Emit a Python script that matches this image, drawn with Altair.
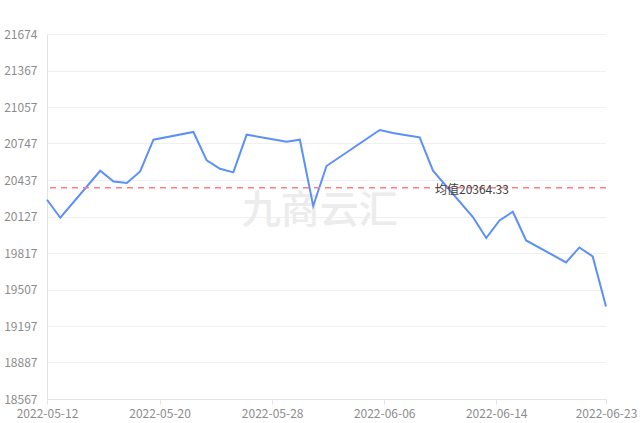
import altair as alt
import pandas as pd

dates = [
    "2022-05-12", "2022-05-13", "2022-05-16", "2022-05-17", "2022-05-18",
    "2022-05-19", "2022-05-20", "2022-05-23", "2022-05-24", "2022-05-25",
    "2022-05-26", "2022-05-27", "2022-05-30", "2022-05-31", "2022-06-01",
    "2022-06-02", "2022-06-06", "2022-06-07", "2022-06-08", "2022-06-09",
    "2022-06-10", "2022-06-13", "2022-06-14", "2022-06-15", "2022-06-16",
    "2022-06-17", "2022-06-20", "2022-06-21", "2022-06-22", "2022-06-23",
]
prices = [
    20263, 20110, 20510, 20419, 20406,
    20504, 20774, 20840, 20598, 20527,
    20496, 20817, 20757, 20774, 20210,
    20550, 20857, 20831, 20812, 20794,
    20510, 20116, 19937, 20087, 20161,
    19917, 19730, 19857, 19781, 19355,
]
mean_value = 20364.33
mean_label = "均值20364.33"
mean_label_date = "2022-06-10"
y_min, y_max = 18567, 21674
y_tick_labels = ["18567", "18887", "19197", "19507", "19817", "20127",
                 "20437", "20747", "21057", "21367", "21674"]
# tick instants as placed on the reference axis (labelled by their date)
x_tick_times = [(2022, 5, 12, 0), (2022, 5, 20, 11), (2022, 5, 28, 22),
                (2022, 6, 6, 8), (2022, 6, 14, 18), (2022, 6, 23, 0)]
watermark_text = "九商云汇"
watermark_date = "2022-06-01T12:00:00"
watermark_value = 20170

FONT = "Noto Sans CJK SC"

df = pd.DataFrame({"date": dates, "price": prices})
step = (y_max - y_min) / 10
y_tick_values = [round(y_min + i * step, 3) for i in range(11)]
label_array = "[" + ",".join("'" + s + "'" for s in y_tick_labels) + "]"
y_label_expr = f"{label_array}[round((datum.value - {y_min}) / {step})]"

x_scale = alt.Scale(type="utc", domain=[alt.DateTime(year=2022, month=5, date=12, utc=True),
                                        alt.DateTime(year=2022, month=6, date=23, utc=True)],
                    nice=False)
y_scale = alt.Scale(domain=[y_min, y_max], nice=False, zero=False)

x_axis = alt.Axis(
    title=None,
    values=[alt.DateTime(year=y, month=m, date=d, hours=h, utc=True) for (y, m, d, h) in x_tick_times],
    labelExpr="utcFormat(datum.value, '%Y-%m-%d')",
    grid=False, domainColor="#e3e3e3", tickColor="#e3e3e3", tickSize=5,
    labelColor="#8c8c8c", labelFontSize=12, labelFont=FONT, labelPadding=4,
    labelFlush=False, labelOverlap=False,
)
y_axis = alt.Axis(
    title=None, values=y_tick_values, labelExpr=y_label_expr,
    ticks=False, grid=True, gridColor="#f0f0f0", domainColor="#e3e3e3",
    labelColor="#8c8c8c", labelFontSize=12, labelFont=FONT, labelPadding=10,
    labelFlush=False, labelOverlap=False,
)

wm_df = pd.DataFrame({"date": [watermark_date], "v": [watermark_value], "t": [watermark_text]})
watermark = alt.Chart(wm_df).mark_text(
    font=FONT, fontSize=39, fontWeight=500, color="#ececec", align="center", baseline="middle"
).encode(
    x=alt.X("date:T", scale=x_scale, axis=x_axis),
    y=alt.Y("v:Q", scale=y_scale, axis=y_axis),
    text="t:N",
)

line = alt.Chart(df).mark_line(color="#5B8FF9", strokeWidth=2).encode(
    x=alt.X("date:T", scale=x_scale, axis=x_axis),
    y=alt.Y("price:Q", scale=y_scale, axis=y_axis),
)

mean_df = pd.DataFrame({"m": [mean_value], "date": [mean_label_date], "label": [mean_label]})
rule = alt.Chart(mean_df).mark_rule(
    color="#ff7f7f", strokeWidth=1.5, strokeDash=[6, 5]
).encode(y=alt.Y("m:Q", scale=y_scale, axis=y_axis))

label = alt.Chart(mean_df).mark_text(
    font=FONT, fontSize=12, color="#404040", align="left", baseline="middle", dx=2, dy=2
).encode(
    x=alt.X("date:T", scale=x_scale, axis=x_axis),
    y=alt.Y("m:Q", scale=y_scale, axis=y_axis),
    text="label:N",
)

chart = alt.layer(watermark, line, rule, label).properties(
    width=559, height=365,
    autosize="none",
    background="white",
    padding={"left": 47, "top": 34, "right": 35, "bottom": 24},
).configure_view(stroke=None)

chart.save("out.html", embed_options={"renderer": "svg", "actions": False})
